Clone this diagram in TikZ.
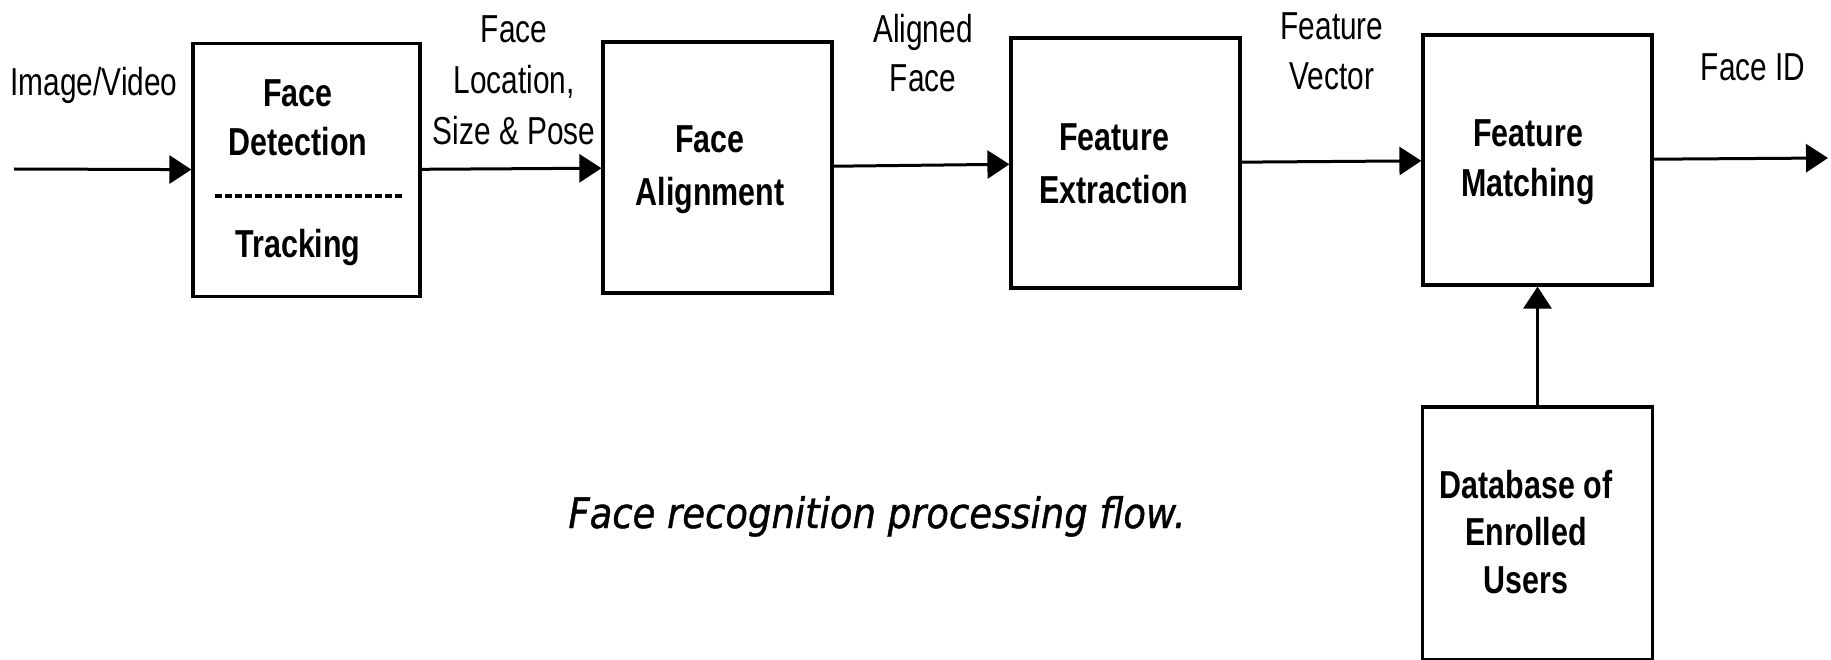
\documentclass[tikz,border=0pt]{standalone}
\usepackage{fontspec}
\setmainfont{Liberation Sans}
\newfontfamily\boxfont[FakeStretch=0.78]{Liberation Sans}
\newfontfamily\lblfont[FakeStretch=0.765]{Liberation Sans}
\newfontfamily\capfont[FakeStretch=0.88,FakeBold=1]{DejaVu Sans}
\usetikzlibrary{arrows.meta}
\begin{document}
\begin{tikzpicture}[x=1pt,y=-1pt,
  blk/.style={draw, line width=3.2pt, inner sep=0pt},
  blktxt/.style={align=center, inner sep=0pt, font=\boxfont\bfseries\fontsize{39}{#1}\selectfont},
  blktxt/.default=50,
  lbl/.style={align=center, inner sep=0pt, font=\lblfont\fontsize{39}{#1}\selectfont},
  lbl/.default=50,
  arr/.style={line width=3pt, -{Triangle[length=22pt,width=28pt]}},
  dashsep/.style={line width=3.5pt, dash pattern=on 7pt off 3pt}
]
\useasboundingbox (0,0) rectangle (1831,660);

% boxes
\node[blk, minimum width=227pt, minimum height=253pt] (fd) at (306.5,170) {};
\node[blk, minimum width=229pt, minimum height=251pt] (fa) at (717.5,167.5) {};
\node[blk, minimum width=229pt, minimum height=250pt] (fe) at (1125.5,163) {};
\node[blk, minimum width=229pt, minimum height=250pt] (fm) at (1537.5,160) {};
\node[blk, minimum width=230pt, minimum height=253pt] (db) at (1537.5,533.5) {};

% box texts
\node[blktxt=49] (fdt) at (298,172.7) {Face\\Detection\\[53pt]Tracking};
\draw[dashsep] ([xshift=24pt,yshift=-26pt]fd.west) -- ([xshift=-20pt,yshift=-26pt]fd.east);
\node[blktxt=53] (fat) at (710,169.7) {Face\\Alignment};
\node[blktxt=53] (fet) at (1114,163.5) {Feature\\Extraction};
\node[blktxt=50] (fmt) at (1528,162.2) {Feature\\Matching};
\node[blktxt=47.5] (dbt) at (1526,531.6) {Database of\\Enrolled\\Users};

% labels
\node[lbl] (iv) at (94,85) {Image/Video};
\node[lbl=51] (l1) at (514,80) {Face\\Location,\\Size \& Pose};
\node[lbl=49] (l2) at (923,53) {Aligned\\Face};
\node[lbl=50] (l3) at (1332,51) {Feature\\Vector};
\node[lbl] (l4) at (1753,67) {Face ID};

% caption
\node[anchor=base, inner sep=0pt, font=\capfont\itshape\fontsize{42}{50}\selectfont] (cap) at (877,528) {Face recognition processing flow.};

% connectors
\coordinate (in) at (14,169);
\coordinate (out) at (1828,158);
\draw[arr] (in) -- (fd);
\draw[arr] (fd) -- (fa);
\draw[arr] (fa) -- (fe);
\draw[arr] (fe) -- (fm);
\draw[arr] (fm) -- (out);
\draw[arr] (db) -- (fm);
\end{tikzpicture}
\end{document}
